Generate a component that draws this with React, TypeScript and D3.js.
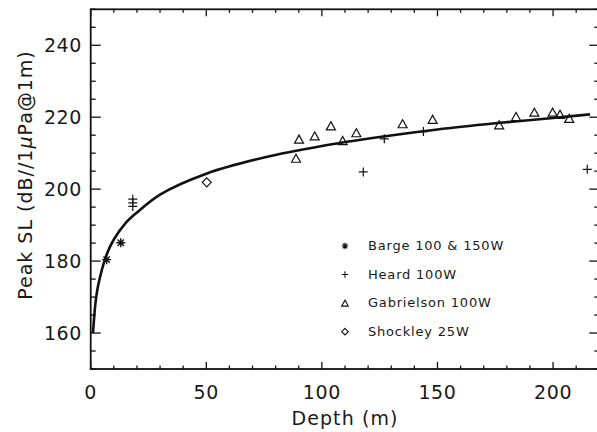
import React from 'react';
import * as d3 from 'd3';

const bargeData: [number, number][] = [
  [6.9, 180.4],
  [13, 185.1],
];
const heardData: [number, number][] = [
  [18.2, 197.2],
  [18.2, 196.2],
  [18.2, 195.2],
  [117.9, 204.8],
  [127, 214],
  [143.9, 216],
  [214.8, 205.5],
];
const gabrielsonData: [number, number][] = [
  [88.8, 208.6],
  [90.1, 213.9],
  [96.9, 214.8],
  [103.9, 217.6],
  [109, 213.5],
  [114.9, 215.7],
  [134.9, 218.2],
  [147.9, 219.4],
  [176.7, 217.9],
  [184, 220.2],
  [191.9, 221.4],
  [199.8, 221.4],
  [203, 220.8],
  [207, 219.7],
];
const shockleyData: [number, number][] = [[50.2, 201.9]];

// Fitted curve, sampled from the figure
const fitCurve: [number, number][] = [
  [1, 160], [2, 168], [3, 172.5], [5, 178], [7, 182], [10, 186],
  [15, 190.5], [20, 193.5], [30, 198.5], [50, 204.3], [75, 208.8],
  [100, 212], [125, 214.5], [150, 216.6], [175, 218.3], [200, 219.8], [216, 220.8],
];

const xMajor = [0, 50, 100, 150, 200];
const yMajor = [160, 180, 200, 220, 240];
const legendLabels = ['Barge 100 & 150W', 'Heard 100W', 'Gabrielson 100W', 'Shockley 25W'];

const W = 597;
const H = 432;
const left = 90.7;
const right = 599.3;
const top = 9.3;
const bottom = 369;
const FONT = '"DejaVu Sans ExtraLight", "DejaVu Sans", sans-serif';
const INK = '#111';
const TEXT = '#1a1a1a';

type Sym = 'star' | 'plus' | 'tri' | 'diamond';

const symbolPath = (s: Sym, r: number): string => {
  switch (s) {
    case 'plus':
      return `M${-r},0H${r}M0,${-r}V${r}`;
    case 'tri':
      return `M${-r},${r * 0.9}L0,${-r * 0.9}L${r},${r * 0.9}Z`;
    case 'diamond':
      return `M0,${-r}L${r},0L0,${r}L${-r},0Z`;
    default: {
      const d = r * 0.7;
      return `M${-r},0H${r}M0,${-r}V${r}M${-d},${-d}L${d},${d}M${-d},${d}L${d},${-d}`;
    }
  }
};

const App = () => {
  const x = d3.scaleLinear().domain([0, 220]).range([left, right]);
  const y = d3.scaleLinear().domain([150, 250]).range([bottom, top]);

  const xMinor = d3.range(0, 221, 10);
  const yMinor = d3.range(150, 251, 5);

  const line = d3
    .line<[number, number]>()
    .x(d => x(d[0]))
    .y(d => y(d[1]))
    .curve(d3.curveCatmullRom);

  const series: { data: [number, number][]; sym: Sym }[] = [
    { data: bargeData, sym: 'star' },
    { data: heardData, sym: 'plus' },
    { data: gabrielsonData, sym: 'tri' },
    { data: shockleyData, sym: 'diamond' },
  ];

  const legendY = d3.scalePoint<string>().domain(legendLabels).range([246, 331.7]);

  return (
    <svg
      width={W}
      height={H}
      style={{ position: 'absolute', left: 0, top: 0, background: '#fff' }}
    >
      <rect x={0} y={0} width={W} height={H} fill="#fff" />

      {/* frame */}
      <rect
        x={left}
        y={top}
        width={right - left}
        height={bottom - top}
        fill="none"
        stroke={INK}
        strokeWidth={1.8}
      />

      {/* x ticks, bottom and top */}
      {xMinor.map(v => {
        const len = v % 50 === 0 ? 7 : 3.5;
        return (
          <g key={`xt${v}`} stroke={INK} strokeWidth={1.3}>
            <line x1={x(v)} x2={x(v)} y1={bottom} y2={bottom - len} />
            <line x1={x(v)} x2={x(v)} y1={top} y2={top + len} />
          </g>
        );
      })}
      {/* y ticks, left and right */}
      {yMinor.map(v => {
        const len = v % 20 === 0 ? 10 : 5;
        return (
          <g key={`yt${v}`} stroke={INK} strokeWidth={1.3}>
            <line x1={left} x2={left + len} y1={y(v)} y2={y(v)} />
            <line x1={right} x2={right - len} y1={y(v)} y2={y(v)} />
          </g>
        );
      })}

      {xMajor.map(v => (
        <text
          key={`xl${v}`}
          x={x(v)}
          y={399}
          textAnchor="middle"
          fontFamily={FONT}
          fontSize={19}
          letterSpacing={0.6}
          fill={TEXT}
        >
          {v}
        </text>
      ))}
      {yMajor.map(v => (
        <text
          key={`yl${v}`}
          x={82}
          y={y(v) + 7}
          textAnchor="end"
          fontFamily={FONT}
          fontSize={19}
          letterSpacing={0.6}
          fill={TEXT}
        >
          {v}
        </text>
      ))}

      <text
        x={(left + right) / 2}
        y={425}
        textAnchor="middle"
        fontFamily={FONT}
        fontSize={19}
        letterSpacing={1.1}
        fill={TEXT}
      >
        Depth (m)
      </text>
      <text
        transform={`translate(32,175) rotate(-90)`}
        textAnchor="middle"
        fontFamily={FONT}
        fontSize={19}
        letterSpacing={1}
        fill={TEXT}
      >
        Peak SL (dB//1<tspan fontStyle="italic">μ</tspan>Pa@1m)
      </text>

      {/* fitted curve */}
      <path d={line(fitCurve) || undefined} fill="none" stroke={INK} strokeWidth={2.6} />

      {/* observations */}
      {series.map(s =>
        s.data.map((d, i) => (
          <path
            key={`${s.sym}${i}`}
            d={symbolPath(s.sym, 4.5)}
            transform={`translate(${x(d[0])},${y(d[1])})`}
            fill="none"
            stroke={INK}
            strokeWidth={s.sym === 'star' ? 1.4 : 1.2}
          />
        ))
      )}

      {/* legend */}
      {legendLabels.map((label, i) => (
        <g key={label}>
          <path
            d={symbolPath(series[i].sym, 3.3)}
            transform={`translate(345,${legendY(label)})`}
            fill="none"
            stroke={INK}
            strokeWidth={1.1}
          />
          <text
            x={368}
            y={(legendY(label) || 0) + 4}
            fontFamily={FONT}
            fontSize={13}
            letterSpacing={0.8}
            fill={TEXT}
          >
            {label}
          </text>
        </g>
      ))}
    </svg>
  );
};

export default App;
